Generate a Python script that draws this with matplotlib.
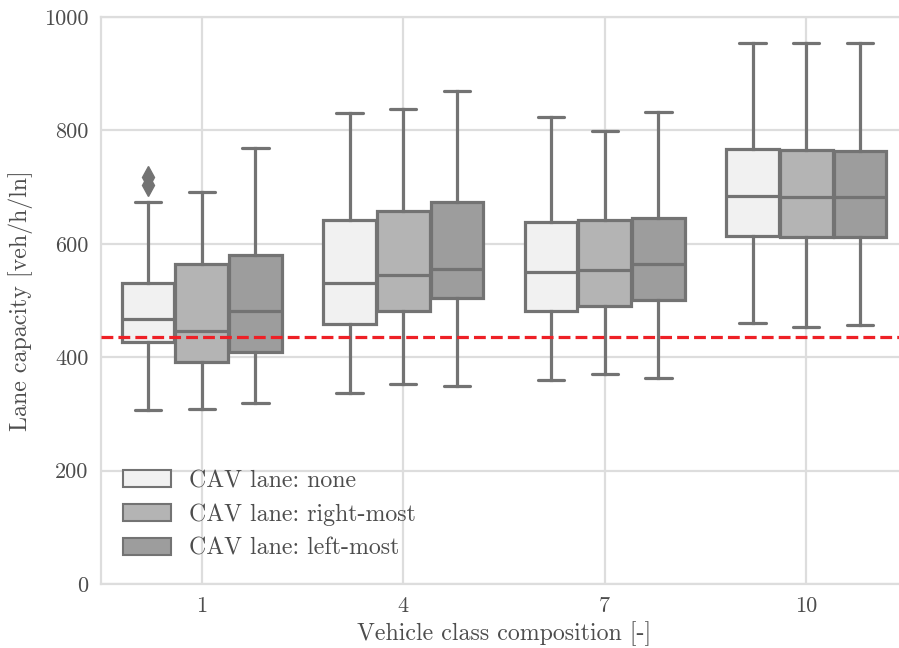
import matplotlib
matplotlib.use('agg')
import matplotlib.pyplot as plt
from matplotlib.patches import Patch

# summary stats (veh/h/ln)
compositions = ['1', '4', '7', '10']
lanes = ['CAV lane: none', 'CAV lane: right-most', 'CAV lane: left-most']
whislo = [[307, 308, 319], [336, 353, 350], [360, 370, 363], [461, 453, 456]]
q1 = [[427, 391, 410], [458, 482, 505], [482, 491, 500], [614, 612, 612]]
med = [[468, 446, 481], [530, 545, 556], [551, 554, 564], [685, 683, 682]]
q3 = [[531, 564, 581], [642, 658, 674], [638, 642, 646], [767, 766, 764]]
whishi = [[673, 691, 769], [830, 837, 869], [824, 799, 833], [955, 955, 955]]
fliers = [[[717, 703], [], []], [[], [], []], [[], [], []], [[], [], []]]
threshold = 435

fills = ['#f1f1f1', '#b4b4b4', '#9d9d9d']
edge = '#737373'
txt = '#4d4d4d'

plt.rcParams['font.family'] = ['cmr10', 'DejaVu Serif']
plt.rcParams['axes.unicode_minus'] = False
plt.rcParams['text.color'] = txt
plt.rcParams['axes.labelcolor'] = txt
plt.rcParams['xtick.color'] = txt
plt.rcParams['ytick.color'] = txt

fig = plt.figure(figsize=(8.99, 6.48), dpi=100)
ax = fig.add_axes([101 / 899, 64 / 648, 806 / 899, 567 / 648])

n = len(lanes)
step = 0.8 / n
for i in range(len(compositions)):
    for j in range(n):
        st = dict(med=med[i][j], q1=q1[i][j], q3=q3[i][j],
                  whislo=whislo[i][j], whishi=whishi[i][j], fliers=fliers[i][j])
        pos = i + (j - (n - 1) / 2) * step
        ax.bxp([st], positions=[pos], widths=step * 0.98, patch_artist=True,
               boxprops=dict(facecolor=fills[j], edgecolor=edge, linewidth=2.3),
               medianprops=dict(color=edge, linewidth=2.3),
               whiskerprops=dict(color=edge, linewidth=2.3),
               capprops=dict(color=edge, linewidth=2.3, solid_capstyle='round'),
               flierprops=dict(marker='d', markerfacecolor=edge, markeredgecolor=edge,
                               markersize=11),
               manage_ticks=False, zorder=3)

ax.axhline(threshold, color='#ee2026', linestyle='--', linewidth=2.3, zorder=4)

ax.set_xlim(-0.5, 3.5)
ax.set_ylim(0, 1000)
ax.set_xticks(range(len(compositions)))
ax.set_xticklabels(compositions)
ax.set_yticks([0, 200, 400, 600, 800, 1000])
ax.tick_params(length=0, labelsize=16, pad=9)
ax.grid(True, color='#dddddd', linewidth=1.6, zorder=0)
ax.set_axisbelow(True)
for s in ax.spines.values():
    s.set_color('#dddddd')
    s.set_linewidth(1.6)

ax.set_xlabel('Vehicle class composition [-]', fontsize=17.2, labelpad=4)
ax.set_ylabel('Lane capacity [veh/h/ln]', fontsize=17.2, labelpad=8)

handles = [Patch(facecolor=fills[j], edgecolor=edge, linewidth=1.5, label=lanes[j])
           for j in range(n)]
ax.legend(handles=handles, loc='lower left', bbox_to_anchor=(0.0, 0.005),
          frameon=False, fontsize=17.2,
          handlelength=2.05, handleheight=0.7, labelspacing=0.48, handletextpad=0.75)

fig.savefig('out.png', dpi=100)
